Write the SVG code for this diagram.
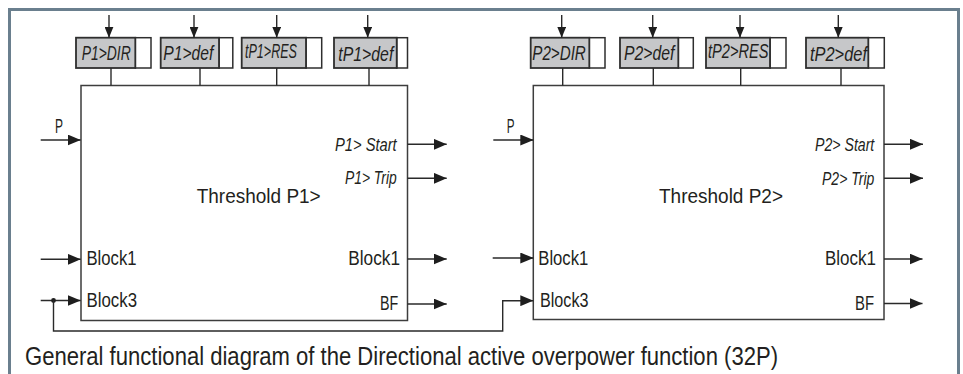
<svg xmlns="http://www.w3.org/2000/svg" width="963" height="374" viewBox="0 0 963 374">
  <style>
    .frame { fill: none; stroke: #6a7f8e; stroke-width: 3; }
    .box { fill: #ffffff; stroke: #3d3d3d; stroke-width: 1.5; }
    .set { fill: #c6c7c9; stroke: #2e2e2e; stroke-width: 1.8; }
    .setw { fill: #ffffff; stroke: #2e2e2e; stroke-width: 1.5; }
    .ln { fill: none; stroke: #2a2a2a; stroke-width: 1.4; }
    .t { font-family: "Liberation Sans Narrow", "Liberation Sans", Arial, sans-serif; fill: #231f20; }
    .lbl { font-size: 20.5px; }
    .it { font-size: 20.5px; font-style: italic; }
    .out { font-size: 18.5px; font-style: italic; }
    .th { font-size: 21px; }
    .cap { font-size: 25px; }
  </style>
  <defs>
    <marker id="ah" viewBox="0 0 13 11" refX="13" refY="5.5" markerWidth="13" markerHeight="11" markerUnits="userSpaceOnUse" orient="auto">
      <path d="M0,0 L13,5.5 L0,11 z" fill="#1e1e1e"/>
    </marker>
    <marker id="av" viewBox="0 0 11 9" refX="11" refY="4.5" markerWidth="11" markerHeight="9" markerUnits="userSpaceOnUse" orient="auto">
      <path d="M0,0 L11,4.5 L0,9 z" fill="#1e1e1e"/>
    </marker>
  </defs>

  <path id="frame" class="frame" d="M9.5,374 V9.5 H958.5 V374"/>

  <!-- Threshold P1> -->
  <g id="box1">
    <rect class="box" x="81" y="85.5" width="326.5" height="235"/>
    <text class="t th" x="196.7" y="202.7" textLength="124" lengthAdjust="spacingAndGlyphs">Threshold P1&gt;</text>
    <text class="t lbl" x="55" y="132.5" textLength="8" lengthAdjust="spacingAndGlyphs">P</text>
    <text class="t lbl" x="86.5" y="265" textLength="50" lengthAdjust="spacingAndGlyphs">Block1</text>
    <text class="t lbl" x="86.5" y="306.5" textLength="50.5" lengthAdjust="spacingAndGlyphs">Block3</text>
    <text class="t out" x="335" y="150.5" textLength="61.7" lengthAdjust="spacingAndGlyphs">P1&gt; Start</text>
    <text class="t out" x="345" y="184.3" textLength="51.7" lengthAdjust="spacingAndGlyphs">P1&gt; Trip</text>
    <text class="t lbl" x="348.3" y="265" textLength="51.7" lengthAdjust="spacingAndGlyphs">Block1</text>
    <text class="t lbl" x="380" y="310" textLength="18.3" lengthAdjust="spacingAndGlyphs">BF</text>
  </g>

  <!-- Threshold P2> -->
  <g id="box2">
    <rect class="box" x="533.3" y="85.5" width="350.7" height="234"/>
    <text class="t th" x="659" y="202.7" textLength="124" lengthAdjust="spacingAndGlyphs">Threshold P2&gt;</text>
    <text class="t lbl" x="506.7" y="132.5" textLength="7.8" lengthAdjust="spacingAndGlyphs">P</text>
    <text class="t lbl" x="538.3" y="265" textLength="50" lengthAdjust="spacingAndGlyphs">Block1</text>
    <text class="t lbl" x="540" y="307" textLength="48.5" lengthAdjust="spacingAndGlyphs">Block3</text>
    <text class="t out" x="815" y="150.5" textLength="59.3" lengthAdjust="spacingAndGlyphs">P2&gt; Start</text>
    <text class="t out" x="822" y="184.8" textLength="52.3" lengthAdjust="spacingAndGlyphs">P2&gt; Trip</text>
    <text class="t lbl" x="825" y="265" textLength="51" lengthAdjust="spacingAndGlyphs">Block1</text>
    <text class="t lbl" x="855" y="310" textLength="19" lengthAdjust="spacingAndGlyphs">BF</text>
  </g>

  <!-- setting boxes, threshold 1 -->
  <g id="set-p1-dir">
    <rect class="setw" x="135.3" y="37.7" width="15.7" height="30.3"/>
    <rect class="set" x="76" y="37.7" width="59.3" height="30.3"/>
    <text class="t it" x="81.7" y="60" textLength="49" lengthAdjust="spacingAndGlyphs">P1&gt;DIR</text>
  </g>
  <g id="set-p1-def">
    <rect class="setw" x="219" y="37.7" width="13.8" height="30.3"/>
    <rect class="set" x="160.7" y="37.7" width="58.3" height="30.3"/>
    <text class="t it" x="163.3" y="60" textLength="50" lengthAdjust="spacingAndGlyphs">P1&gt;def</text>
  </g>
  <g id="set-tp1-res">
    <rect class="setw" x="306" y="37.7" width="15.7" height="30.3"/>
    <rect class="set" x="241.7" y="37.7" width="64.3" height="30.3"/>
    <text class="t it" x="245" y="57.5" textLength="52" lengthAdjust="spacingAndGlyphs">tP1&gt;RES</text>
  </g>
  <g id="set-tp1-def">
    <rect class="setw" x="396.7" y="37.7" width="10.8" height="30.3"/>
    <rect class="set" x="334" y="37.7" width="62.7" height="30.3"/>
    <text class="t it" x="338.3" y="61" textLength="55" lengthAdjust="spacingAndGlyphs">tP1&gt;def</text>
  </g>

  <!-- setting boxes, threshold 2 -->
  <g id="set-p2-dir">
    <rect class="setw" x="589.3" y="37.7" width="15.7" height="30.3"/>
    <rect class="set" x="530.7" y="37.7" width="58.6" height="30.3"/>
    <text class="t it" x="532.3" y="60" textLength="53.5" lengthAdjust="spacingAndGlyphs">P2&gt;DIR</text>
  </g>
  <g id="set-p2-def">
    <rect class="setw" x="678.3" y="37.7" width="15" height="30.3"/>
    <rect class="set" x="620" y="37.7" width="58.3" height="30.3"/>
    <text class="t it" x="624" y="60" textLength="50.3" lengthAdjust="spacingAndGlyphs">P2&gt;def</text>
  </g>
  <g id="set-tp2-res">
    <rect class="setw" x="770" y="37.7" width="16" height="30.3"/>
    <rect class="set" x="706" y="37.7" width="64" height="30.3"/>
    <text class="t it" x="708" y="57.5" textLength="60.5" lengthAdjust="spacingAndGlyphs">tP2&gt;RES</text>
  </g>
  <g id="set-tp2-def">
    <rect class="setw" x="868.3" y="37.7" width="16" height="30.3"/>
    <rect class="set" x="806" y="37.7" width="62.3" height="30.3"/>
    <text class="t it" x="810" y="61" textLength="57" lengthAdjust="spacingAndGlyphs">tP2&gt;def</text>
  </g>

  <g id="connectors">
    <!-- setting inputs -->
    <line class="ln" x1="109" y1="15" x2="109" y2="37.7" marker-end="url(#av)"/>
    <line class="ln" x1="194" y1="15" x2="194" y2="37.7" marker-end="url(#av)"/>
    <line class="ln" x1="276.7" y1="15" x2="276.7" y2="37.7" marker-end="url(#av)"/>
    <line class="ln" x1="367.7" y1="15" x2="367.7" y2="37.7" marker-end="url(#av)"/>
    <line class="ln" x1="561.7" y1="15" x2="561.7" y2="37.7" marker-end="url(#av)"/>
    <line class="ln" x1="652.7" y1="15" x2="652.7" y2="37.7" marker-end="url(#av)"/>
    <line class="ln" x1="740" y1="15" x2="740" y2="37.7" marker-end="url(#av)"/>
    <line class="ln" x1="838.3" y1="15" x2="838.3" y2="37.7" marker-end="url(#av)"/>
    <!-- settings to blocks -->
    <line class="ln" x1="111" y1="68" x2="111" y2="85.5"/>
    <line class="ln" x1="200" y1="68" x2="200" y2="85.5"/>
    <line class="ln" x1="276.7" y1="68" x2="276.7" y2="85.5"/>
    <line class="ln" x1="369" y1="68" x2="369" y2="85.5"/>
    <line class="ln" x1="562.7" y1="68" x2="562.7" y2="85.5"/>
    <line class="ln" x1="653.3" y1="68" x2="653.3" y2="85.5"/>
    <line class="ln" x1="740.7" y1="68" x2="740.7" y2="85.5"/>
    <line class="ln" x1="841" y1="68" x2="841" y2="85.5"/>
    <!-- inputs block 1 -->
    <line class="ln" x1="40.7" y1="140" x2="80.7" y2="140" marker-end="url(#ah)"/>
    <line class="ln" x1="40.7" y1="259.3" x2="80.7" y2="259.3" marker-end="url(#ah)"/>
    <line class="ln" x1="40.7" y1="300.5" x2="80.7" y2="300.5" marker-end="url(#ah)"/>
    <circle cx="53.5" cy="300.5" r="2.4" fill="#1e1e1e"/>
    <!-- outputs block 1 -->
    <line class="ln" x1="407.5" y1="144.3" x2="446.7" y2="144.3" marker-end="url(#ah)"/>
    <line class="ln" x1="407.5" y1="178.3" x2="446.7" y2="178.3" marker-end="url(#ah)"/>
    <line class="ln" x1="407.5" y1="259" x2="446.7" y2="259" marker-end="url(#ah)"/>
    <line class="ln" x1="407.5" y1="304" x2="446.7" y2="304" marker-end="url(#ah)"/>
    <!-- feedback Block3 -->
    <path class="ln" d="M53.5,300.5 V331 H502.7 V300.7 H533.3" marker-end="url(#ah)"/>
    <!-- inputs block 2 -->
    <line class="ln" x1="493.3" y1="140" x2="533.3" y2="140" marker-end="url(#ah)"/>
    <line class="ln" x1="492.7" y1="258" x2="533.3" y2="258" marker-end="url(#ah)"/>
    <!-- outputs block 2 -->
    <line class="ln" x1="884" y1="144.3" x2="923" y2="144.3" marker-end="url(#ah)"/>
    <line class="ln" x1="884" y1="178.3" x2="923" y2="178.3" marker-end="url(#ah)"/>
    <line class="ln" x1="884" y1="259" x2="922.5" y2="259" marker-end="url(#ah)"/>
    <line class="ln" x1="884" y1="303.5" x2="922.5" y2="303.5" marker-end="url(#ah)"/>
  </g>

  <text id="caption" class="t cap" x="25" y="364.5" textLength="753" lengthAdjust="spacingAndGlyphs">General functional diagram of the Directional active overpower function (32P)</text>
</svg>
